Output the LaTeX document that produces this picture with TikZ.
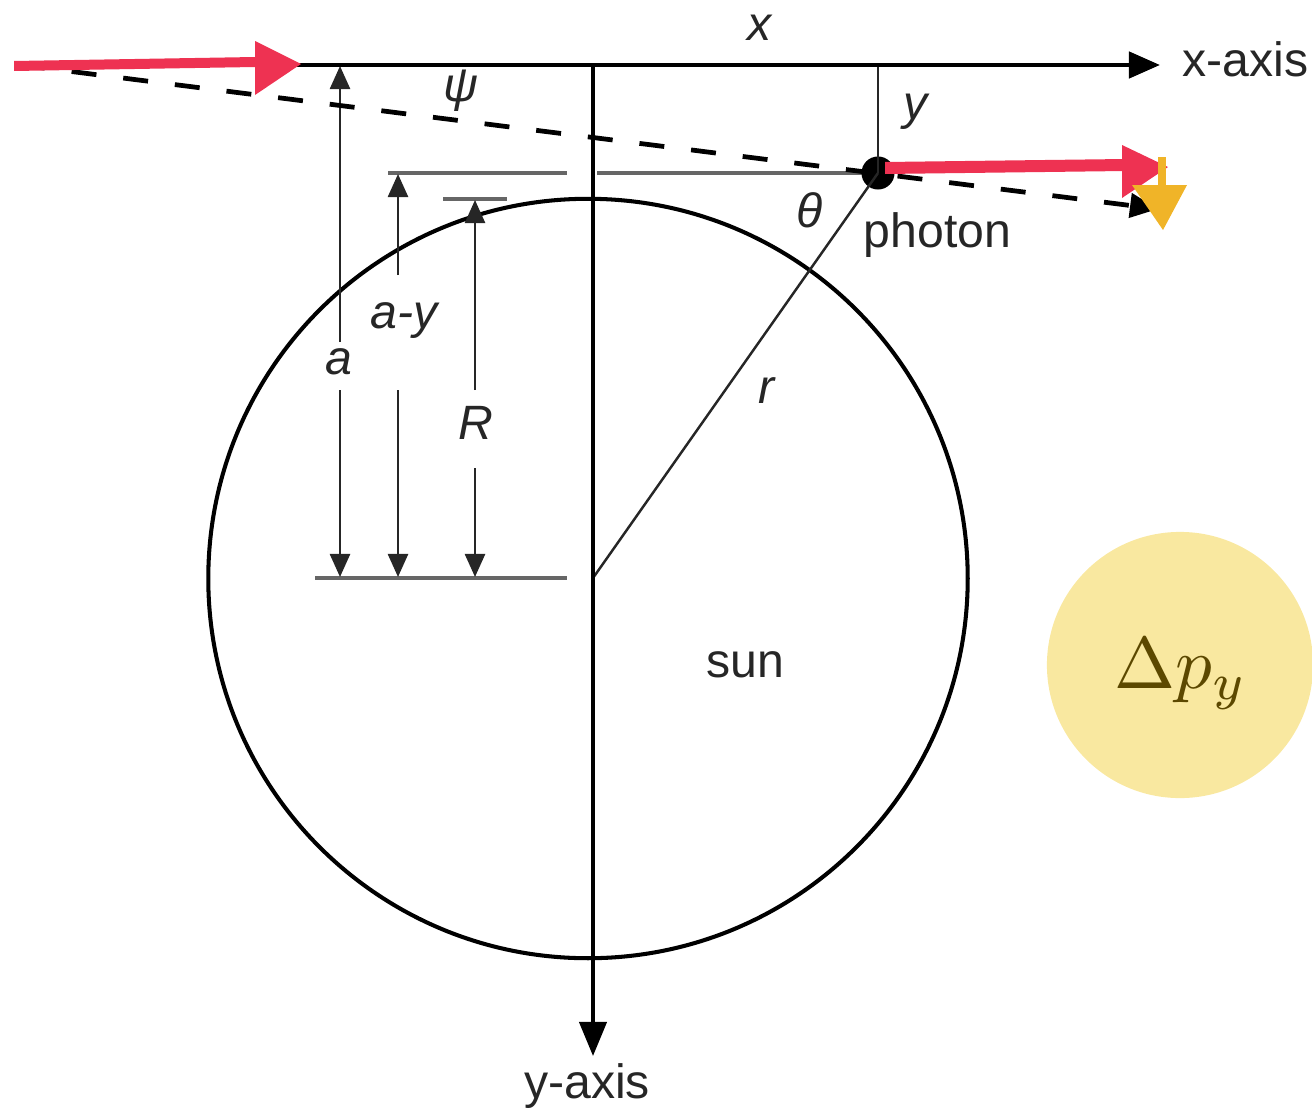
\documentclass[tikz,border=0pt]{standalone}
\usepackage{graphicx}
\usepackage{fontspec}
\setmainfont{Liberation Sans}
\usetikzlibrary{arrows.meta}
\definecolor{hred}{RGB}{238,50,82}
\definecolor{hyel}{RGB}{240,180,40}
\definecolor{dpfill}{RGB}{249,232,160}
\definecolor{dptext}{RGB}{92,72,0}
\begin{document}
\begin{tikzpicture}[x=0.01cm,y=-0.01cm,
  lbl/.style={font=\fontsize{13.7}{16}\selectfont, inner sep=0pt, text=black!85},
  ilbl/.style={inner sep=0pt, font=\fontsize{13.7}{16}\selectfont\itshape, text=black!85},
  axisline/.style={line width=1.3pt, -{Triangle[length=0.31cm,width=0.26cm]}},
  thinline/.style={line width=0.7pt, draw=black!85},
  guide/.style={line width=0.9pt, draw=black!60},
  dimarrow/.style={line width=0.7pt, draw=black!85, -{Triangle[length=0.23cm,width=0.2cm]}},
  photonpath/.style={line width=1.35pt, dash pattern=on 0.25cm off 0.27cm, -{Triangle[length=0.28cm,width=0.24cm]}},
]
\useasboundingbox (0,0) rectangle (1312,1109);

% key points
\coordinate (xs) at (20,65);
\coordinate (xe) at (1160,65);
\coordinate (O) at (593,65);
\coordinate (ye) at (593,1056);
\coordinate (C) at (593,578);
\coordinate (Py) at (878,65);
\coordinate (de) at (1158,209);

% sun
\node[circle, draw, line width=1.15pt, minimum size=7.59cm, inner sep=0pt] (sun) at (588,578.5) {};

% guide lines
\draw[guide] (388,173) -- (567,173);
\draw[guide] (597,173) -- (878,173);
\draw[guide] (443,199) -- (507,199);
\draw[guide] (315,578) -- (567,578);

% dimension arrows
\draw[dimarrow] (340,342) -- (340,66);
\draw[dimarrow] (340,390) -- (340,577);
\draw[dimarrow] (398,275) -- (398,174);
\draw[dimarrow] (398,390) -- (398,577);
\draw[dimarrow] (475,390) -- (475,200);
\draw[dimarrow] (475,468) -- (475,577);

% photon
\node[circle, fill, inner sep=0pt, minimum size=0.33cm] (ph) at (878,173) {};

% y and r lines
\draw[thinline] (Py) -- (ph.center);
\draw[thinline] (C) -- (ph.center);

% dashed photon path
\draw[photonpath] (xs) -- (de);

% axes
\draw[axisline] (xs) -- (xe);
\draw[axisline, line width=1.15pt, -{Triangle[length=0.34cm,width=0.27cm]}] (O) -- (ye);

% labels
\node[ilbl] (lx) at (760,28) {x};
\node[ilbl] (ly) at (916,112) {y};
\node[ilbl] (lpsi) at (461,91) {ψ};
\node[ilbl] (lth) at (810,210) {θ};
\node[ilbl] (lr) at (767,391) {r};
\node[ilbl] (la) at (339,362) {a};
\node[ilbl] (lay) at (404,321) {a-y};
\node[ilbl] (lR) at (476,423) {R};
\node[lbl] (lsun) at (745,665) {sun};
\node[lbl, anchor=west] (lph) at (863,235) {photon};
\node[lbl, anchor=west] (lxa) at (1182,59) {x-axis};
\node[lbl] (lya) at (587,1086) {y-axis};

% hand-drawn red arrows
\fill[hred] (14,61) -- (255,57) -- (255,67) -- (14,71) -- cycle;
\fill[hred] (255,41) -- (301,64) -- (255,95) -- cycle;
\fill[hred] (885,162) -- (1125,159) -- (1125,171) -- (885,174) -- cycle;
\fill[hred] (1122,145) -- (1168,167) -- (1122,198) -- cycle;

% yellow arrow
\draw[hyel, line width=2pt] (1162,157) -- (1162,187);
\fill[hyel] (1132,185) -- (1187,185) -- (1163,230) -- cycle;

% Delta p_y bubble
\node[circle, fill=dpfill, minimum size=2.66cm, inner sep=0pt] (dp) at (1180,665) {};
\node[text=dptext, inner sep=0pt] (dplbl) at (1181,674) {\scalebox{2.08}{$\Delta p_y$}};
\end{tikzpicture}
\end{document}
